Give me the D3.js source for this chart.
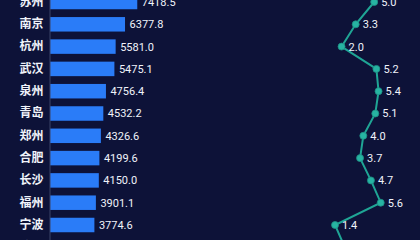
<!DOCTYPE html>
<html>
<head>
<meta charset="utf-8">
<script src="https://cdn.jsdelivr.net/npm/d3@7"></script>
<style>
  html, body { margin: 0; padding: 0; background: #0d1238; overflow: hidden; }
  svg { display: block; }
</style>
</head>
<body>
<svg id="chart" width="420" height="240"></svg>
<script>
// Categories (first and last rows lie outside the visible crop)
const cities = ["成都", "苏州", "南京", "杭州", "武汉", "泉州", "青岛", "郑州", "合肥", "长沙", "福州", "宁波", "济南"];
// Bar series values
const barValues = [8500.0, 7418.5, 6377.8, 5581.0, 5475.1, 4756.4, 4532.2, 4326.6, 4199.6, 4150.0, 3901.1, 3774.6, 3600.0];
// Line series values (growth rate)
const lineValues = [5.5, 5.0, 3.3, 2.0, 5.2, 5.4, 5.1, 4.0, 3.7, 4.7, 5.6, 1.4, 2.3];

const W = 420, H = 240;
const svg = d3.select("#chart");

svg.append("rect").attr("width", W).attr("height", H).attr("fill", "#0d1238");

const step = 22.3;
const y0 = -31.45;
const y = d3.scaleBand()
  .domain(cities)
  .range([y0, y0 + step * cities.length])
  .paddingInner(0.35)
  .paddingOuter(0.175);

const xBar = d3.scaleLinear().domain([0, 20000]).range([50, 50 + 20000 * 0.011763]);
const xLine = d3.scaleLinear().domain([0, 9]).range([319.8, 319.8 + 9 * 10.88]);

const data = cities.map((c, i) => ({ city: c, bar: barValues[i], rate: lineValues[i] }));

// bars
svg.append("g").selectAll("rect").data(data).join("rect")
  .attr("x", xBar(0))
  .attr("y", d => y(d.city))
  .attr("width", d => xBar(d.bar) - xBar(0))
  .attr("height", y.bandwidth())
  .attr("fill", "#2a7cf8");

// y axis
const yAxis = d3.axisLeft(y).tickSize(0).tickPadding(6);
const gy = svg.append("g").attr("transform", "translate(49.5,0)").call(yAxis);
gy.select(".domain").attr("stroke", "#3b4266").attr("stroke-width", 1);
gy.selectAll("text")
  .attr("fill", "#f0f3fa")
  .attr("font-size", 12)
  .attr("font-weight", "bold")
  .attr("font-family", "'Noto Sans CJK SC', sans-serif");

// bar labels
svg.append("g").selectAll("text").data(data).join("text")
  .attr("x", d => xBar(d.bar) + 4.5)
  .attr("y", d => y(d.city) + y.bandwidth() / 2)
  .attr("dy", "0.36em")
  .attr("fill", "#f0f3fa")
  .attr("font-size", 11)
  .attr("font-family", "Roboto, 'Noto Sans', sans-serif")
  .text(d => d.bar.toFixed(1));

// line
const cy = d => y(d.city) + y.bandwidth() / 2;
const line = d3.line().x(d => xLine(d.rate)).y(cy);
svg.append("path").datum(data)
  .attr("d", line)
  .attr("fill", "none")
  .attr("stroke", "#1fa595")
  .attr("stroke-width", 2);

svg.append("g").selectAll("circle").data(data).join("circle")
  .attr("cx", d => xLine(d.rate))
  .attr("cy", cy)
  .attr("r", 3.5)
  .attr("fill", "#27b3a2")
  .attr("stroke", "#1d8f84")
  .attr("stroke-width", 0.8);

svg.append("g").selectAll("text").data(data).join("text")
  .attr("x", d => xLine(d.rate) + 7)
  .attr("y", cy)
  .attr("dy", "0.36em")
  .attr("fill", "#f0f3fa")
  .attr("font-size", 11)
  .attr("font-family", "Roboto, 'Noto Sans', sans-serif")
  .text(d => d.rate.toFixed(1));
</script>
</body>
</html>
